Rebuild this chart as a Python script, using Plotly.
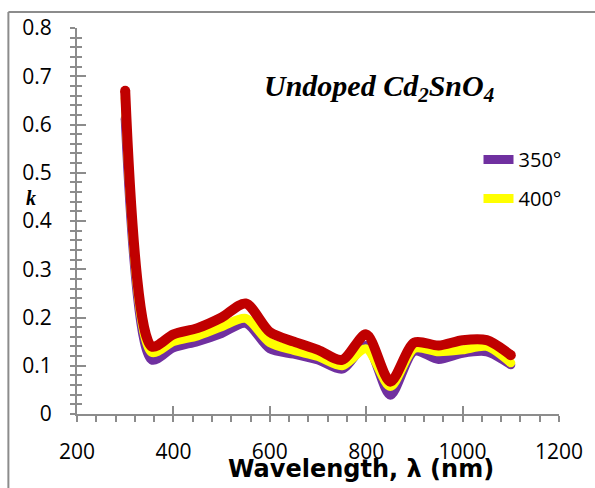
import plotly.graph_objects as go

wavelength = [300, 355, 400, 450, 500, 550, 600, 650, 700, 750, 800, 850, 900, 950, 1000, 1050, 1100]
k_350 = [0.612, 0.112, 0.137, 0.150, 0.167, 0.188, 0.135, 0.124, 0.112, 0.093, 0.142, 0.039, 0.130, 0.113, 0.126, 0.129, 0.102]
k_400 = [0.655, 0.128, 0.150, 0.162, 0.181, 0.198, 0.148, 0.132, 0.119, 0.100, 0.135, 0.057, 0.136, 0.129, 0.133, 0.140, 0.106]
k_450 = [0.670, 0.140, 0.165, 0.178, 0.200, 0.229, 0.170, 0.150, 0.133, 0.112, 0.165, 0.067, 0.148, 0.142, 0.153, 0.153, 0.122]

series_names = ["350°", "400°", "450°"]
series_colors = ["#7030A0", "#FFFF00", "#C00000"]
x_ticks = [200, 400, 600, 800, 1000, 1200]
y_ticks = [0, 0.1, 0.2, 0.3, 0.4, 0.5, 0.6, 0.7, 0.8]

GRAY = "#8C8C8C"
fig = go.Figure()
for name, vals, col, w, show in zip(series_names, [k_350, k_400, k_450], series_colors,
                                    [9, 9, 10], [True, True, False]):
    fig.add_trace(go.Scatter(x=wavelength, y=vals, mode="lines", name=name,
                             line=dict(color=col, width=w, shape="spline", smoothing=0.8),
                             showlegend=show, legendgroup=name))
    # round end caps
    fig.add_trace(go.Scatter(x=[wavelength[0], wavelength[-1]], y=[vals[0], vals[-1]], mode="markers",
                             marker=dict(size=w, color=col, line=dict(width=0)),
                             showlegend=False, legendgroup=name, hoverinfo="skip"))
fig.add_trace(go.Scatter(x=[], y=[], xaxis="x2", yaxis="y2", showlegend=False))

tickfont = dict(family="Open Sans", size=21, color="black")
fig.update_layout(
    width=595, height=488,
    margin=dict(l=77, r=33, t=28, b=74),
    plot_bgcolor="white", paper_bgcolor="white",
    showlegend=True,
    legend=dict(x=0.833, y=0.71, xanchor="left", yanchor="top",
                font=dict(family="Open Sans", size=20, color="black"),
                tracegroupgap=10, bgcolor="rgba(0,0,0,0)"),
    xaxis=dict(range=[200, 1200], tickvals=x_ticks, ticks="outside", ticklen=6, tickwidth=2,
               tickcolor=GRAY, showline=True, linecolor=GRAY, linewidth=2, showgrid=False,
               zeroline=False, tickfont=tickfont, ticklabelstandoff=12,
               minor=dict(dtick=40, tick0=200, ticks="outside", ticklen=6, tickwidth=2, tickcolor=GRAY)),
    yaxis=dict(range=[0, 0.8], tickvals=y_ticks, ticks="outside", ticklen=5, tickwidth=2,
               tickcolor=GRAY, showline=True, linecolor=GRAY, linewidth=2, showgrid=False,
               zeroline=False, tickfont=tickfont, ticklabelstandoff=14,
               minor=dict(dtick=0.02, tick0=0, ticks="outside", ticklen=5, tickwidth=2, tickcolor=GRAY)),
    xaxis2=dict(range=[200, 1200], overlaying="x", anchor="y2", tickvals=x_ticks, ticks="inside",
                ticklen=8, tickwidth=2, tickcolor=GRAY, showticklabels=False, showgrid=False,
                zeroline=False, showline=False),
    yaxis2=dict(range=[0, 0.8], overlaying="y", anchor="x2", side="left", tickvals=y_ticks,
                ticks="inside", ticklen=9, tickwidth=2, tickcolor=GRAY, showticklabels=False,
                showgrid=False, zeroline=False, showline=False,
                minor=dict(dtick=0.02, tick0=0, ticks="inside", ticklen=5, tickwidth=2, tickcolor=GRAY)),
)

fig.add_annotation(text="<b><i>Undoped Cd<sub>2</sub>SnO<sub>4</sub></i></b>", xref="paper", yref="paper",
                   x=(381 - 77) / 484.7, y=(414 - 88) / 386, xanchor="center", yanchor="middle",
                   showarrow=False, font=dict(family="Liberation Serif", size=30, color="black"))
fig.add_annotation(text="<b>Wavelength, λ (nm)</b>", xref="paper", yref="paper",
                   x=(363 - 77) / 484.7, y=(414 - 469) / 386, xanchor="center", yanchor="middle",
                   showarrow=False, font=dict(family="DejaVu Sans", size=24, color="black"))
fig.add_annotation(text="<b><i>k</i></b>", xref="paper", yref="paper",
                   x=(31 - 77) / 484.7, y=(414 - 198) / 386, xanchor="center", yanchor="middle",
                   showarrow=False, font=dict(family="Liberation Serif", size=20, color="black"))

left = (8 - 77) / 484.7
top = (414 - 12) / 386
fig.add_shape(type="line", xref="paper", yref="paper", x0=left, x1=(600 - 77) / 484.7, y0=top, y1=top,
              line=dict(color=GRAY, width=2))
fig.add_shape(type="line", xref="paper", yref="paper", x0=left, x1=left, y0=top, y1=(414 - 500) / 386,
              line=dict(color=GRAY, width=2))

fig.write_html("out.html")
